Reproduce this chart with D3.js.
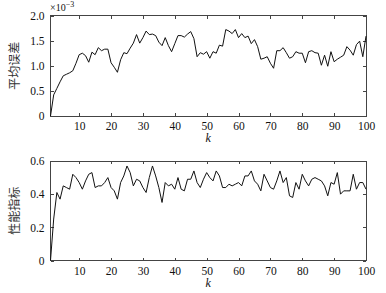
<!DOCTYPE html>
<html>
<head>
<meta charset="utf-8">
<script src="https://d3js.org/d3.v7.min.js"></script>
<style>
body { margin: 0; background: #fff; }
.axis text { font-family: "Liberation Serif", "Times New Roman", serif; font-size: 11.5px; fill: #111; }
.axis path, .axis line { stroke: #444; shape-rendering: crispEdges; }
.line { fill: none; stroke: #111; stroke-width: 1px; }
.ylab { font-family: "Noto Sans CJK SC", sans-serif; font-size: 12px; fill: #333; }
.xlab { font-family: "Liberation Serif", serif; font-style: italic; font-size: 12px; fill: #111; }
</style>
</head>
<body>
<svg width="386" height="293"></svg>
<script>
// mean error (x 1e-3), k = 1..100
const errVals = [
0, 0.42, 0.55, 0.68, 0.80, 0.83, 0.86, 0.90, 1.05, 1.22,
1.25, 1.20, 1.07, 1.27, 1.22, 1.36, 1.30, 1.33, 1.33, 1.06,
0.97, 0.87, 1.12, 1.26, 1.24, 1.35, 1.45, 1.62, 1.45, 1.56,
1.69, 1.62, 1.63, 1.60, 1.47, 1.40, 1.56, 1.40, 1.28, 1.44,
1.60, 1.60, 1.57, 1.63, 1.68, 1.54, 1.18, 1.26, 1.23, 1.28,
1.15, 1.28, 1.25, 1.41, 1.39, 1.72, 1.69, 1.64, 1.72, 1.56,
1.64, 1.56, 1.59, 1.44, 1.52, 1.38, 1.13, 1.15, 1.18, 1.05,
0.95, 1.30, 1.30, 1.36, 1.26, 1.15, 1.18, 1.28, 1.25, 1.25,
1.06, 1.28, 1.30, 1.26, 1.25, 1.01, 1.21, 0.99, 1.28, 1.08,
1.13, 1.17, 1.21, 1.38, 1.31, 1.21, 1.42, 1.49, 1.18, 1.59
];

// performance index, k = 1..100
const perfVals = [
0, 0.25, 0.41, 0.37, 0.45, 0.44, 0.43, 0.52, 0.50, 0.47,
0.43, 0.48, 0.52, 0.53, 0.44, 0.45, 0.45, 0.47, 0.50, 0.44,
0.42, 0.37, 0.47, 0.51, 0.57, 0.53, 0.45, 0.49, 0.48, 0.44,
0.41, 0.50, 0.57, 0.51, 0.44, 0.35, 0.47, 0.45, 0.46, 0.43,
0.50, 0.43, 0.42, 0.49, 0.49, 0.54, 0.47, 0.44, 0.49, 0.53,
0.50, 0.48, 0.54, 0.51, 0.44, 0.44, 0.46, 0.45, 0.46, 0.47,
0.45, 0.51, 0.51, 0.54, 0.48, 0.46, 0.42, 0.52, 0.48, 0.44,
0.43, 0.48, 0.54, 0.47, 0.50, 0.39, 0.38, 0.47, 0.43, 0.52,
0.48, 0.45, 0.49, 0.50, 0.49, 0.48, 0.45, 0.39, 0.47, 0.46,
0.53, 0.40, 0.42, 0.42, 0.42, 0.52, 0.43, 0.47, 0.47, 0.43
];

const xTicks = [10, 20, 30, 40, 50, 60, 70, 80, 90, 100];
const errTicks = [0, 0.5, 1.0, 1.5, 2.0];
const perfTicks = [0, 0.2, 0.4, 0.6];

const svg = d3.select("svg");
const left = 50.5, right = 366;

const x = d3.scaleLinear().domain([1, 100]).range([left, right]);

function panel(vals, yDomain, yTicks, top, bottom, ylab, xlabY) {
  const y = d3.scaleLinear().domain(yDomain).range([bottom, top]);
  const fmt = d => d === 0 ? "0" : d3.format(".1f")(d);

  // box
  svg.append("rect")
    .attr("x", left).attr("y", top)
    .attr("width", right - left).attr("height", bottom - top)
    .attr("fill", "none").attr("stroke", "#444")
    .attr("shape-rendering", "crispEdges");

  svg.append("g").attr("class", "axis")
    .attr("transform", `translate(0,${bottom})`)
    .call(d3.axisBottom(x).tickValues(xTicks).tickSizeInner(-3).tickSizeOuter(0).tickPadding(6))
    .call(g => g.select(".domain").remove());

  svg.append("g").attr("class", "axis")
    .attr("transform", `translate(0,${top})`)
    .call(d3.axisTop(x).tickValues(xTicks).tickSizeInner(-3).tickSizeOuter(0).tickFormat(""))
    .call(g => g.select(".domain").remove());

  svg.append("g").attr("class", "axis")
    .attr("transform", `translate(${left},0)`)
    .call(d3.axisLeft(y).tickValues(yTicks).tickFormat(fmt).tickSizeInner(-3).tickSizeOuter(0).tickPadding(6))
    .call(g => g.select(".domain").remove());

  svg.append("g").attr("class", "axis")
    .attr("transform", `translate(${right},0)`)
    .call(d3.axisRight(y).tickValues(yTicks).tickFormat("").tickSizeInner(-3).tickSizeOuter(0))
    .call(g => g.select(".domain").remove());

  const line = d3.line().x((d, i) => x(i + 1)).y(d => y(d));
  svg.append("path").datum(vals).attr("class", "line").attr("d", line);

  svg.append("text").attr("class", "ylab")
    .attr("transform", `translate(19,${(top + bottom) / 2}) rotate(-90)`)
    .attr("text-anchor", "middle")
    .text(ylab);

  svg.append("text").attr("class", "xlab")
    .attr("x", (left + right) / 2).attr("y", xlabY)
    .attr("text-anchor", "middle")
    .text("k");
}

panel(errVals, [0, 2], errTicks, 15.5, 116, "平均误差", 142);
panel(perfVals, [0, 0.6], perfTicks, 161, 260.5, "性能指标", 287);

// exponent label
const ex = svg.append("text")
  .attr("x", 50).attr("y", 11)
  .attr("font-family", "Liberation Serif, serif")
  .attr("font-size", "10px").attr("fill", "#111");
ex.append("tspan").text("×10");
ex.append("tspan").attr("dy", -4).attr("font-size", "8px").text("−3");
</script>
</body>
</html>
